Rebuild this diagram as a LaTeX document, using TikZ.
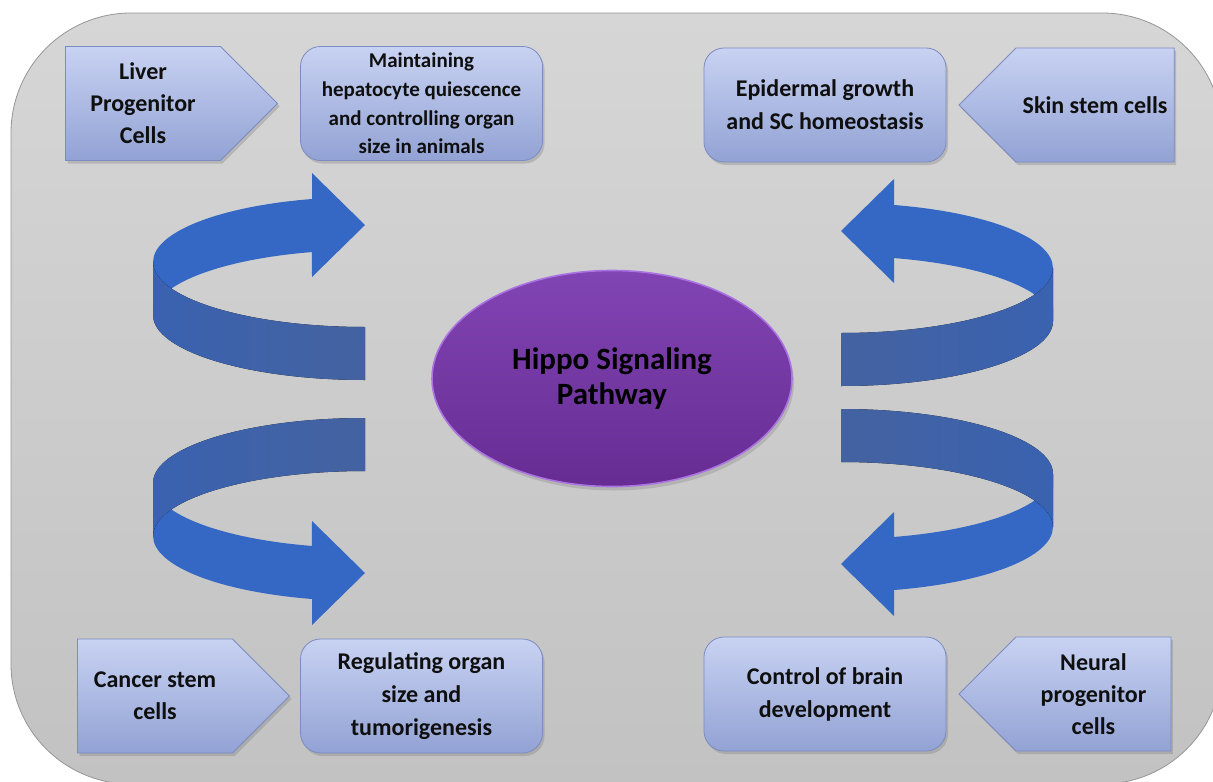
\documentclass[tikz,border=0pt]{standalone}
\usepackage{fontspec}
\setmainfont{Carlito}
\usepackage{tikz}
\usetikzlibrary{positioning, shapes.symbols, shapes.geometric, shadows}
\definecolor{panelTop}{RGB}{214, 214, 214}
\definecolor{panelBottom}{RGB}{194, 194, 194}
\definecolor{panelEdge}{RGB}{150, 150, 150}
\definecolor{boxTop}{RGB}{200, 210, 242}
\definecolor{boxMid}{RGB}{166, 180, 224}
\definecolor{boxBottom}{RGB}{146, 162, 212}
\definecolor{boxEdge}{RGB}{125, 140, 192}
\definecolor{hubFill}{RGB}{112, 48, 160}
\definecolor{hubTop}{RGB}{170, 115, 225}
\definecolor{ribbonFront}{RGB}{52, 104, 196}
\definecolor{ribbonBack}{RGB}{68, 98, 160}
\definecolor{ribbonCurl}{RGB}{58, 98, 176}
\definecolor{labelInk}{RGB}{15, 15, 15}
\tikzset{
    cell_tag/.style={
        signal,
        signal pointer angle=90,
        draw=boxEdge,
        thin,
        top color=boxTop,
        middle color=boxMid,
        bottom color=boxBottom,
        text=labelInk,
        align=center,
        minimum width=106pt,
        minimum height=57pt,
        font=\bfseries\fontsize{12}{16}\selectfont,
        drop shadow={opacity=0.35, shadow xshift=1pt, shadow yshift=-1.5pt}
    },
    role_box/.style={
        rectangle,
        rounded corners=10pt,
        draw=boxEdge,
        thin,
        top color=boxTop,
        middle color=boxMid,
        bottom color=boxBottom,
        text=labelInk,
        align=center,
        minimum width=121pt,
        minimum height=57pt,
        font=\bfseries\fontsize{12}{16.5}\selectfont,
        drop shadow={opacity=0.35, shadow xshift=1pt, shadow yshift=-1.5pt}
    },
    hub_node/.style={
        ellipse,
        draw=hubTop,
        line width=0.8pt,
        top color=hubFill!70!hubTop,
        middle color=hubFill,
        bottom color=hubFill!92!black,
        text=black,
        align=center,
        minimum width=180pt,
        minimum height=108pt,
        font=\bfseries\fontsize{15.5}{17.5}\selectfont,
        drop shadow={opacity=0.3, shadow xshift=1pt, shadow yshift=-2pt}
    },
    ribbon_front/.style={fill=ribbonFront},
    ribbon_back/.style={left color=ribbonCurl, right color=ribbonBack},
    ribbon/.pic={
        % far side with the head, then the near side over it
        \fill[ribbon_front] (-53,-63)
            arc[start angle=255.5, end angle=180, x radius=212, y radius=65]
            -- (-212,53)
            arc[start angle=180, end angle=255.5, x radius=212, y radius=65]
            -- (-53,15) -- (0,-37) -- (-53,-89) -- cycle;
        \fill[ribbon_back] (-212,0)
            arc[start angle=180, end angle=90, x radius=212, y radius=65]
            -- (0,118)
            arc[start angle=90, end angle=180, x radius=212, y radius=65]
            -- cycle;
    }
}
\begin{document}
\begin{tikzpicture}[x=0.5pt, y=-0.5pt]
    \useasboundingbox (0,0) rectangle (1213,781);
    \clip (0,0) rectangle (1213,781);
    \fill[white] (0,0) rectangle (1213,781);
    \draw[panelEdge, top color=panelTop, bottom color=panelBottom, rounded corners=60pt]
        (11,13) rectangle (1222,784);

    % ribbons
    \pic at (365,262) {ribbon};
    \pic[xscale=-1, ribbon_back/.style={left color=ribbonBack, right color=ribbonCurl}]
        at (841,268) {ribbon};
    \pic[yscale=-1] at (365,536) {ribbon};
    \pic[xscale=-1, yscale=-1, ribbon_back/.style={left color=ribbonBack, right color=ribbonCurl}]
        at (841,527) {ribbon};

    \node[hub_node] (hippo) at (612,378.5) {Hippo Signaling\\Pathway};

    \node[role_box, font=\bfseries\fontsize{10.5}{14.3}\selectfont] (liverRole) at (421.5,103.5)
        {Maintaining\\hepatocyte quiescence\\and controlling organ\\size in animals};
    \node[role_box] (skinRole) at (825,105) {Epidermal growth\\and SC homeostasis};
    \node[role_box] (cancerRole) at (421.5,696) {Regulating organ\\size and\\tumorigenesis};
    \node[role_box] (brainRole) at (825,694) {Control of brain\\development};

    \node[cell_tag, signal to=east, left=11pt of liverRole] (liver) {Liver\\Progenitor\\Cells};
    \node[cell_tag, signal to=west, right=6pt of skinRole] (skin) {Skin stem cells};
    \node[cell_tag, signal to=east, left=5pt of cancerRole] (cancer) {Cancer stem\\cells};
    \node[cell_tag, signal to=west, right=6pt of brainRole] (neural) {Neural\\progenitor\\cells};
\end{tikzpicture}
\end{document}
